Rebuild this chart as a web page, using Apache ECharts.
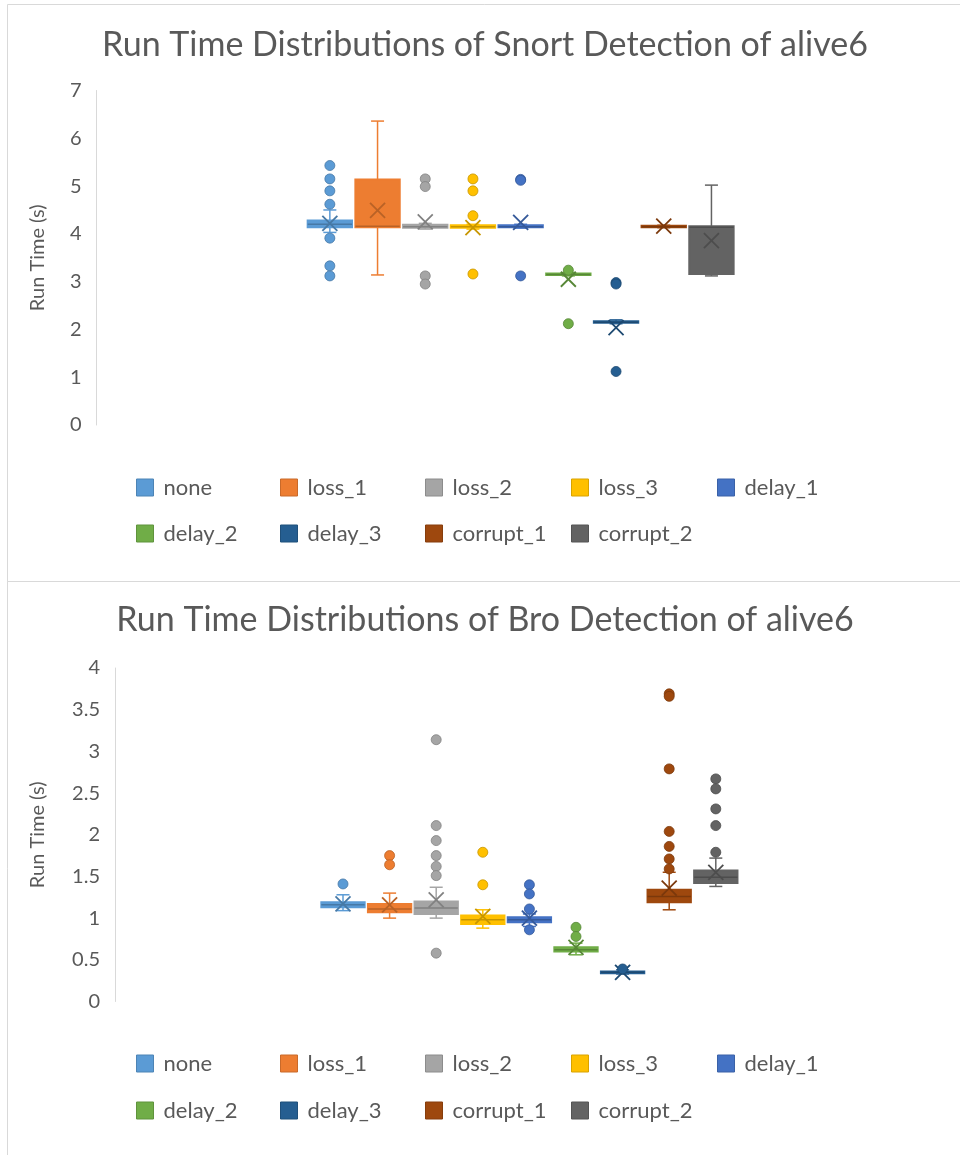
<!DOCTYPE html>
<html><head><meta charset="utf-8">
<script src="https://cdn.jsdelivr.net/npm/echarts@6/dist/echarts.min.js"></script>
<style>html,body{margin:0;padding:0;background:#fff}#c{width:960px;height:1155px}</style>
</head><body><div id="c"></div>
<script>
// ---------- data ----------
const categories = ['none','loss_1','loss_2','loss_3','delay_1','delay_2','delay_3','corrupt_1','corrupt_2'];
const seriesColors = ['#5B9BD5','#ED7D31','#A5A5A5','#FFC000','#4472C4','#70AD47','#255E91','#9E480E','#636363'];

// Snort detection (seconds)
const snortMin    = [4.03, 3.14, 4.10, 4.10, 4.12, 3.12, 2.12, 4.13, 3.12];
const snortQ1     = [4.14, 4.14, 4.13, 4.13, 4.14, 3.14, 2.14, 4.14, 3.16];
const snortMedian = [4.20, 4.16, 4.15, 4.15, 4.15, 3.15, 2.15, 4.15, 4.14];
const snortQ3     = [4.28, 5.14, 4.19, 4.18, 4.18, 3.17, 2.17, 4.17, 4.16];
const snortMax    = [4.50, 6.36, 4.22, 4.20, 4.20, 3.19, 2.20, 4.18, 5.02];
const snortMean   = [4.22, 4.49, 4.25, 4.13, 4.24, 3.05, 2.04, 4.16, 3.86];
const snortOutliers = [
  [5.43, 5.15, 4.90, 4.62, 3.91, 3.33, 3.12],
  [],
  [5.15, 4.99, 3.12, 2.95],
  [5.15, 4.90, 4.38, 3.16],
  [5.14, 5.12, 3.12],
  [3.24, 2.12],
  [2.98, 2.95, 1.12],
  [],
  []
];
const snortTicks = {min: 0, max: 7, interval: 1};

// Bro detection (seconds)
const broMin    = [1.09, 1.00, 1.00, 0.88, 0.90, 0.56, 0.33, 1.10, 1.38];
const broQ1     = [1.13, 1.07, 1.05, 0.93, 0.95, 0.60, 0.34, 1.19, 1.42];
const broMedian = [1.16, 1.11, 1.12, 0.98, 0.98, 0.62, 0.35, 1.26, 1.49];
const broQ3     = [1.19, 1.17, 1.20, 1.03, 1.01, 0.65, 0.36, 1.34, 1.57];
const broMax    = [1.28, 1.30, 1.37, 1.10, 1.05, 0.70, 0.38, 1.55, 1.72];
const broMean   = [1.17, 1.16, 1.22, 1.02, 1.00, 0.65, 0.35, 1.36, 1.55];
const broOutliers = [
  [1.41],
  [1.75, 1.64],
  [3.14, 2.11, 1.93, 1.75, 1.62, 1.51, 0.58],
  [1.79, 1.40],
  [1.40, 1.29, 1.11, 0.86],
  [0.89, 0.78],
  [0.39],
  [3.69, 3.66, 2.79, 2.04, 1.86, 1.71, 1.59],
  [2.67, 2.55, 2.31, 2.11, 1.79]
];
const broTicks = {min: 0, max: 4, interval: 0.5};

const titles = ['Run Time Distributions of Snort Detection of alive6', 'Run Time Distributions of Bro Detection of alive6'];
const yName = 'Run Time (s)';

// ---------- drawing ----------
const FONT = 'Lato, "Open Sans", sans-serif';
const TXT = '#595959';

function darken(hex, f) {
  const n = parseInt(hex.slice(1), 16);
  const r = Math.round(((n >> 16) & 255) * f), g = Math.round(((n >> 8) & 255) * f), b = Math.round((n & 255) * f);
  return 'rgb(' + r + ',' + g + ',' + b + ')';
}

function makeRender(outliers) {
  return function (params, api) {
    const i = api.value(0);
    const color = seriesColors[i];
    const dark = darken(color, 0.78);
    const band = api.size([1, 0])[0];
    const hw = band * 0.465;
    const cx = api.coord([i, 0])[0];
    const y = v => api.coord([i, v])[1];
    const yMin = y(api.value(1)), yQ1 = y(api.value(2)), yMed = y(api.value(3)),
          yQ3 = y(api.value(4)), yMax = y(api.value(5)), yMean = y(api.value(6));
    const cap = 6.5;
    const ln = (x1, y1, x2, y2, c, w) => ({type: 'line', shape: {x1, y1, x2, y2}, style: {stroke: c, lineWidth: w}});
    const ch = [];
    ch.push(ln(cx, yQ3, cx, yMax, color, 1.5));
    ch.push(ln(cx, yQ1, cx, yMin, color, 1.5));
    ch.push(ln(cx - cap, yMax, cx + cap, yMax, color, 1.5));
    ch.push(ln(cx - cap, yMin, cx + cap, yMin, color, 1.5));
    ch.push({type: 'rect', shape: {x: cx - hw, y: yQ3, width: 2 * hw, height: Math.max(yQ1 - yQ3, 0.5)},
             style: {fill: color, stroke: color, lineWidth: 2}});
    ch.push(ln(cx - hw, yMed, cx + hw, yMed, dark, 1.5));
    const m = 7.5;
    ch.push(ln(cx - m, yMean - m, cx + m, yMean + m, dark, 1.8));
    ch.push(ln(cx - m, yMean + m, cx + m, yMean - m, dark, 1.8));
    outliers[i].forEach(v => ch.push({type: 'circle', shape: {cx: cx, cy: y(v), r: 5},
      style: {fill: color, stroke: dark, lineWidth: 0.8}}));
    return {type: 'group', children: ch};
  };
}

const panels = [
  {min: snortMin, q1: snortQ1, med: snortMedian, q3: snortQ3, max: snortMax, mean: snortMean, out: snortOutliers, ticks: snortTicks,
   grid: {left: 306, top: 90.5, width: 429.3, height: 334.5}, axisX: 96.5, titleY: 45, legendRows: [487, 533]},
  {min: broMin, q1: broQ1, med: broMedian, q3: broQ3, max: broMax, mean: broMean, out: broOutliers, ticks: broTicks,
   grid: {left: 319.7, top: 668, width: 419.4, height: 333.5}, axisX: 115, titleY: 620, legendRows: [1063, 1110]}
];
const legendCols = [136, 280, 425, 571, 717];

const option = {
  animation: false,
  backgroundColor: '#ffffff',
  grid: [], xAxis: [], yAxis: [], series: [], legend: [],
  graphic: [
    {type: 'rect', silent: true, z: -10, shape: {x: 7.5, y: 4.5, width: 960, height: 577}, style: {fill: 'none', stroke: '#d9d9d9', lineWidth: 1}},
    {type: 'rect', silent: true, z: -10, shape: {x: 7.5, y: 581.5, width: 960, height: 600}, style: {fill: 'none', stroke: '#d9d9d9', lineWidth: 1}}
  ]
};

panels.forEach((p, c) => {
  option.grid.push(Object.assign({containLabel: false}, p.grid));
  option.xAxis.push({type: 'category', gridIndex: c, data: categories, show: false, boundaryGap: true});
  option.yAxis.push({
    type: 'value', gridIndex: c, min: p.ticks.min, max: p.ticks.max, interval: p.ticks.interval,
    offset: p.grid.left - p.axisX,
    axisLine: {show: true, lineStyle: {color: '#d9d9d9', width: 1}},
    axisTick: {show: false}, splitLine: {show: false},
    axisLabel: {color: TXT, fontSize: 20, fontFamily: FONT, margin: 15},
    name: yName, nameLocation: 'middle', nameGap: p.axisX - 48, nameRotate: 90,
    nameTextStyle: {color: TXT, fontSize: 20, fontFamily: FONT}
  });
  option.graphic.push({type: 'text', x: 485, y: p.titleY, silent: true,
    style: {text: titles[c], fontSize: 34, fill: TXT, fontFamily: FONT, textAlign: 'center', textVerticalAlign: 'middle'}});
  categories.forEach((name, i) => {
    option.series.push({
      type: 'custom', name: name, xAxisIndex: c, yAxisIndex: c, clip: false,
      itemStyle: {color: seriesColors[i]},
      encode: {x: 0, y: [1, 2, 3, 4, 5, 6]},
      data: [[i, p.min[i], p.q1[i], p.med[i], p.q3[i], p.max[i], p.mean[i]]],
      renderItem: makeRender(p.out)
    });
    const row = Math.floor(i / 5), col = i % 5;
    option.legend.push({
      data: [{name: name, icon: 'rect', itemStyle: {color: seriesColors[i], borderColor: darken(seriesColors[i], 0.85), borderWidth: 1}}],
      left: legendCols[col], top: p.legendRows[row] - 10.5, padding: 0,
      itemWidth: 17, itemHeight: 17, selectedMode: false,
      textStyle: {color: TXT, fontSize: 22, fontFamily: FONT, padding: [0, 0, 0, 5]}
    });
  });
});

const chart = echarts.init(document.getElementById('c'), null, {renderer: 'canvas'});
chart.setOption(option);
</script>
</body></html>
